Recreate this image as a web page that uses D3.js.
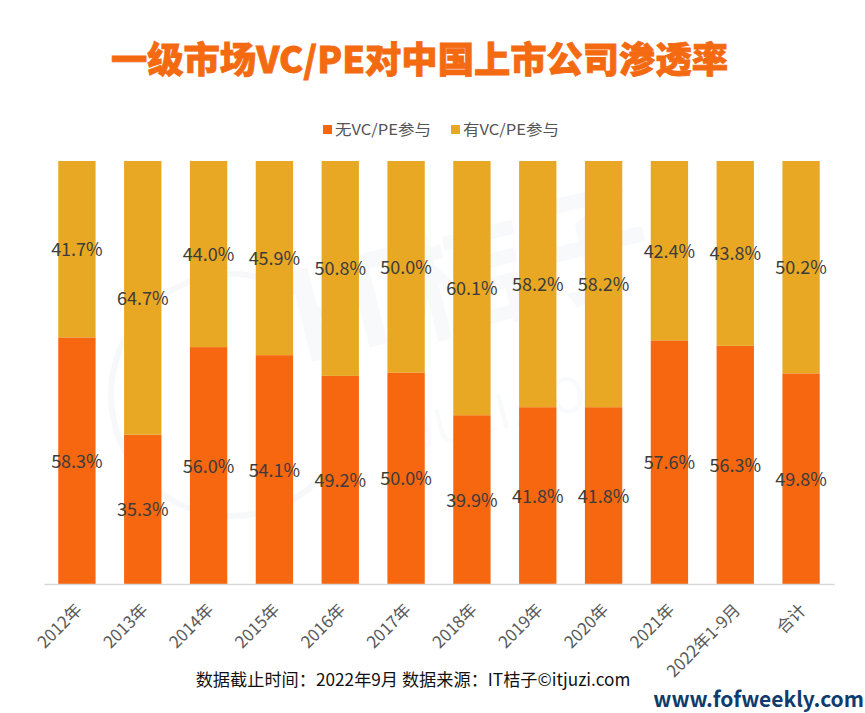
<!DOCTYPE html>
<html><head><meta charset="utf-8">
<script src="https://cdnjs.cloudflare.com/ajax/libs/d3/7.8.5/d3.min.js"></script>
<style>html,body{margin:0;padding:0;background:#fff}svg{display:block}
text{font-family:"Noto Sans CJK SC","Noto Sans",sans-serif}</style></head><body>
<svg id="c" width="865" height="713"></svg>
<script>
const categories=["2012年","2013年","2014年","2015年","2016年","2017年","2018年","2019年","2020年","2021年","2022年1-9月","合计"];
const seriesNames=["无VC/PE参与","有VC/PE参与"];
const withoutVC=[58.3,35.3,56.0,54.1,49.2,50.0,39.9,41.8,41.8,57.6,56.3,49.8];
const withVC=[41.7,64.7,44.0,45.9,50.8,50.0,60.1,58.2,58.2,42.4,43.8,50.2];
const colors=["#F66710","#E8A823"];
const titleText="一级市场VC/PE对中国上市公司渗透率";
const sourceText="数据截止时间：2022年9月 数据来源：IT桔子©itjuzi.com";
const siteText="www.fofweekly.com";

const svg=d3.select("#c");
const x=d3.scaleBand().domain(categories).range([44,834]).paddingInner(0.433).paddingOuter(0.2165);
const y=d3.scaleLinear().domain([0,100]).range([584,161]);

// very faint background watermark
svg.append("circle").attr("cx",232).attr("cy",395).attr("r",121).attr("fill","none").attr("stroke","#f7f8fa").attr("stroke-width",6);
svg.append("text").attr("x",480).attr("y",320).attr("font-size",125).attr("font-weight",700).attr("fill","#f8f9fb").attr("transform","rotate(-14 480 320)").attr("text-anchor","middle").text("IT桔子");
svg.append("text").attr("x",520).attr("y",425).attr("font-size",48).attr("fill","#f9fafb").attr("transform","rotate(-14 520 425)").attr("text-anchor","middle").text("JUZI.COM");

svg.append("text").attr("x",419.5).attr("y",73).attr("text-anchor","middle").attr("font-size",36.3).attr("font-weight",900)
  .attr("fill","#F46A10").attr("stroke","#F46A10").attr("stroke-width",0.8).text(titleText);

const legendX=[323,451];
seriesNames.forEach((n,i)=>{
  svg.append("rect").attr("x",legendX[i]).attr("y",125).attr("width",9).attr("height",9).attr("fill",colors[i]);
  svg.append("text").attr("x",legendX[i]+12).attr("y",135).attr("font-size",15).attr("fill","#555").attr("textLength",96).attr("lengthAdjust","spacingAndGlyphs").text(n);
});

const rows=categories.map((c,i)=>({c,a:withoutVC[i],b:withVC[i]}));
const g=svg.append("g");
g.selectAll(".a").data(rows).join("rect").attr("x",d=>x(d.c)).attr("width",x.bandwidth()).attr("y",d=>y(d.a)).attr("height",d=>y(0)-y(d.a)).attr("fill",colors[0]);
g.selectAll(".b").data(rows).join("rect").attr("x",d=>x(d.c)).attr("width",x.bandwidth()).attr("y",d=>y(100)).attr("height",d=>y(d.a)-y(100)).attr("fill",colors[1]);

const lab=svg.append("g").attr("font-size",18).attr("fill","#3c3c3c").attr("text-anchor","middle").attr("dominant-baseline","central");
rows.forEach(d=>{
  const cx=x(d.c)+x.bandwidth()/2;
  lab.append("text").attr("x",cx).attr("y",y(d.a/2)-1).text(d.a.toFixed(1)+"%");
  lab.append("text").attr("x",cx).attr("y",y(d.a+(100-d.a)/2)-1).text(d.b.toFixed(1)+"%");
});

const axis=svg.append("g").attr("transform","translate(0,584)").call(d3.axisBottom(x).tickSize(0).tickPadding(0));
axis.select(".domain").attr("stroke","#d9d9d9").attr("stroke-width",1.5);
axis.selectAll("text").attr("font-size",16.8).attr("fill","#595959").attr("text-anchor","end").attr("dy",0)
  .attr("transform",function(d){return `translate(${x.bandwidth()/2-12.5},27) rotate(-45)`}).attr("x",0).attr("y",0);

svg.append("text").attr("x",413).attr("y",686).attr("text-anchor","middle").attr("font-size",17.2).attr("fill","#111").text(sourceText);
svg.append("text").attr("x",864).attr("y",707).attr("text-anchor","end").attr("font-family","Liberation Sans").attr("font-size",21).attr("font-weight",700).attr("fill","#0F3C6E").text(siteText);
</script></body></html>
